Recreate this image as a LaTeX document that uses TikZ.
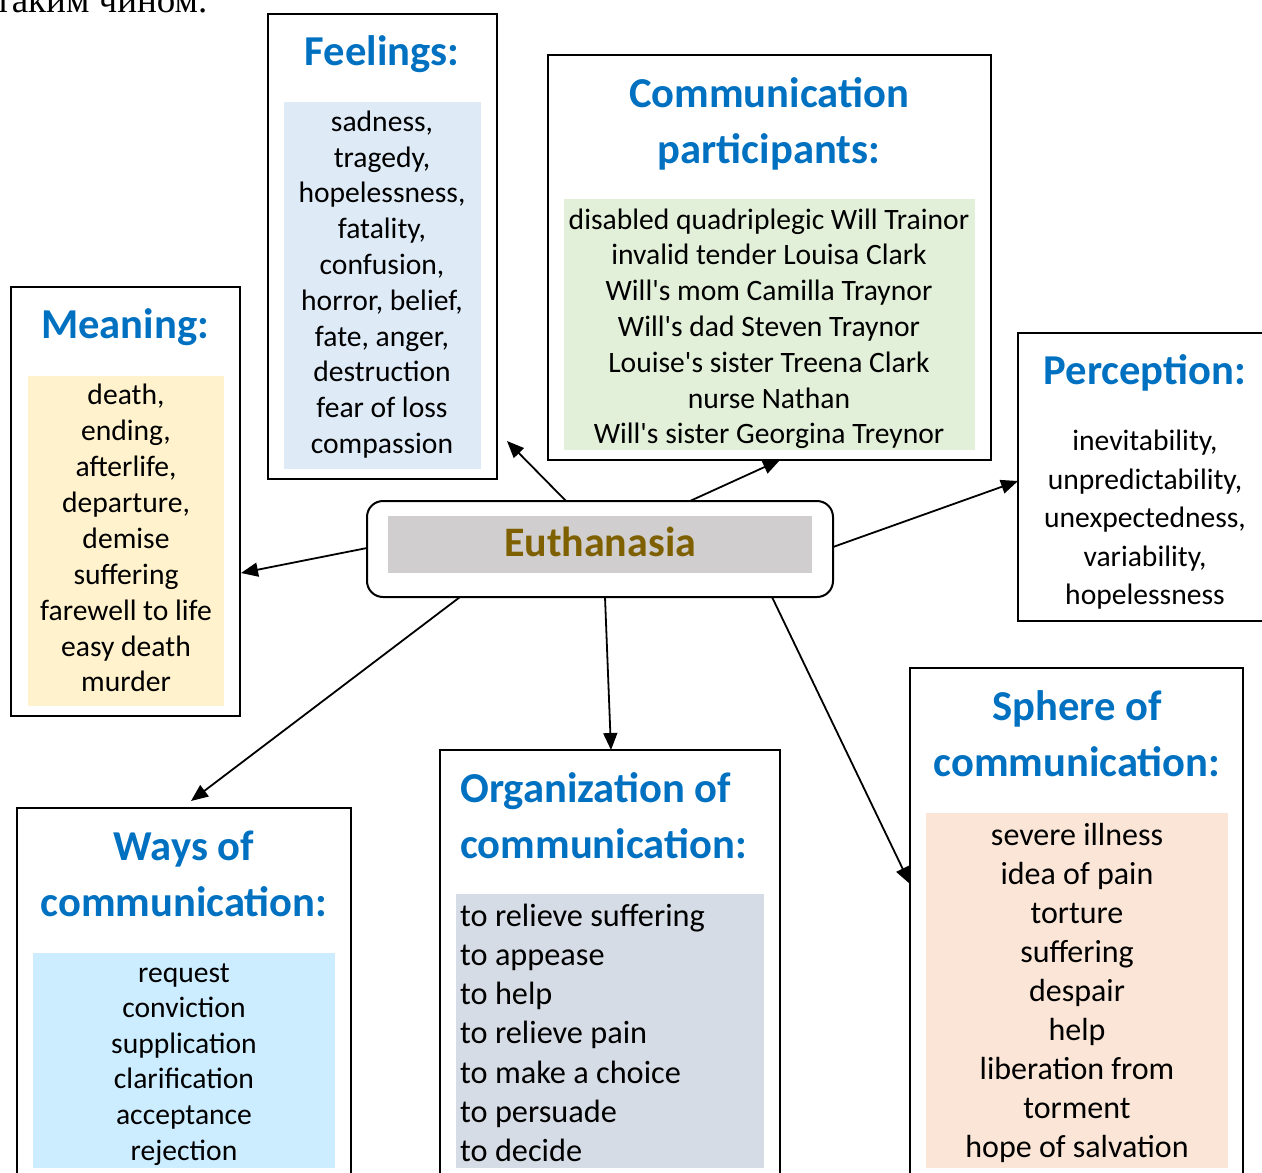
\documentclass[tikz,border=0pt]{standalone}
\usepackage{fontspec}
\setmainfont{Carlito}[Ligatures=TeXOff]
\newfontfamily\ukrserif{Liberation Serif}
\usetikzlibrary{arrows.meta}
\definecolor{titleblue}{HTML}{0070C0}
\definecolor{euthbrown}{HTML}{7F6000}
\definecolor{feelfill}{HTML}{DEEBF7}
\definecolor{partfill}{HTML}{E2F0D9}
\definecolor{meanfill}{HTML}{FFF2CC}
\definecolor{euthfill}{HTML}{D0CECE}
\definecolor{sphfill}{HTML}{FBE5D6}
\definecolor{orgfill}{HTML}{D6DCE5}
\definecolor{waysfill}{HTML}{CCECFF}
\begin{document}
\begin{tikzpicture}[x=1pt,y=-1pt,
  outerbox/.style={draw=black, line width=2pt, rectangle, inner sep=0pt, outer sep=0pt},
  fillbox/.style={rectangle, inner sep=0pt, outer sep=0pt},
  txt/.style={inner sep=0pt, execute at begin node=\strut, execute at end node=\strut},
  titletxt/.style={txt, text=titleblue, align=center, font=\fontsize{42.6}{56}\selectfont\bfseries},
  itemtxt/.style={txt, align=center, font=\fontsize{29.6}{#1}\selectfont},
  itemtxt/.default=35.8,
  orgtxt/.style={txt, align=left, anchor=west, font=\fontsize{32.3}{39.2}\selectfont},
  arr/.style={line width=1.8pt, -{Triangle[length=17pt,width=14pt]}}
]
\useasboundingbox (0,0) rectangle (1262,1173);
\clip (0,0) rectangle (1262,1173);

% leftover text line at the top
\node[anchor=base west, inner sep=0pt, font=\ukrserif\fontsize{37}{44}\selectfont] (ukr) at (-5,12) {таким чином.};

% Feelings
\node[outerbox, minimum width=229, minimum height=465] (feel) at (382.5,246.5) {};
\node[fillbox, fill=feelfill, minimum width=197, minimum height=367] (feelbg) at (382.5,285.5) {};
\node[titletxt] (feelT) at (382,54.5) {Feelings:};
\node[itemtxt] (feelI) at (382,287.5) {sadness,\\tragedy,\\hopelessness,\\fatality,\\confusion,\\horror, belief,\\fate, anger,\\destruction\\fear of loss\\compassion};

% Communication participants
\node[outerbox, minimum width=443, minimum height=405] (part) at (769.5,257.5) {};
\node[fillbox, fill=partfill, minimum width=411, minimum height=251] (partbg) at (769.5,324.5) {};
\node[titletxt] (partT) at (769,128.5) {Communication\\participants:};
\node[itemtxt] (partI) at (769,331.5) {disabled quadriplegic Will Trainor\\invalid tender Louisa Clark\\Will's mom Camilla Traynor\\Will's dad Steven Traynor\\Louise's sister Treena Clark\\nurse Nathan\\Will's sister Georgina Treynor};

% Meaning
\node[outerbox, minimum width=229, minimum height=429] (mean) at (125.5,501.5) {};
\node[fillbox, fill=meanfill, minimum width=196, minimum height=330] (meanbg) at (126,541) {};
\node[titletxt] (meanT) at (125,327) {Meaning:};
\node[itemtxt=35.9] (meanI) at (126,543.5) {death,\\ending,\\afterlife,\\departure,\\demise\\suffering\\farewell to life\\easy death\\murder};

% Euthanasia
\node[draw=black, line width=2pt, rounded corners=16pt, rectangle, inner sep=0pt, outer sep=0pt, minimum width=466, minimum height=96] (euth) at (600,549) {};
\node[fillbox, fill=euthfill, minimum width=424, minimum height=57] (euthbg) at (600,544.5) {};
\node[txt, text=euthbrown, font=\fontsize{42}{56}\selectfont\bfseries] (euthT) at (600,545) {Euthanasia};

% Perception
\node[outerbox, minimum width=272, minimum height=288] (perc) at (1154,477) {};
\node[titletxt] (percT) at (1145,373) {Perception:};
\node[itemtxt=38.5] (percI) at (1145,523) {inevitability,\\unpredictability,\\unexpectedness,\\variability,\\hopelessness};

% Sphere of communication
\node[outerbox, minimum width=333, minimum height=532] (sph) at (1076.5,934) {};
\node[fillbox, fill=sphfill, minimum width=302, minimum height=355] (sphbg) at (1077,990.5) {};
\node[titletxt] (sphT) at (1077,742) {Sphere of\\communication:};
\node[txt, align=center, font=\fontsize{32}{39}\selectfont] (sphI) at (1077,996.5) {severe illness\\idea of pain\\torture\\suffering\\despair\\help\\liberation from\\torment\\hope of salvation};

% Organization of communication
\node[outerbox, minimum width=340, minimum height=450] (org) at (610,975) {};
\node[fillbox, fill=orgfill, minimum width=308, minimum height=274] (orgbg) at (610,1031) {};
\node[titletxt, align=left, anchor=west] (orgT) at (460,824) {Organization of\\communication:};
\node[orgtxt] (orgI) at (460,1038.5) {to relieve suffering\\to appease\\to help\\to relieve pain\\to make a choice\\to persuade\\to decide};

% Ways of communication
\node[outerbox, minimum width=334, minimum height=392] (ways) at (184,1004) {};
\node[fillbox, fill=waysfill, minimum width=302, minimum height=215] (waysbg) at (184,1060.5) {};
\node[titletxt] (waysT) at (184,882) {Ways of\\communication:};
\node[itemtxt=35.6] (waysI) at (184,1067) {request\\conviction\\supplication\\clarification\\acceptance\\rejection};

% connector end points
\coordinate (eFeel) at (566,501);
\coordinate (tFeel) at (507,441);
\coordinate (ePart) at (690,501);
\coordinate (tPart) at (780,460);
\coordinate (eMean) at (367,548);
\coordinate (tMean) at (241,573);
\coordinate (ePerc) at (833,547);
\coordinate (tPerc) at (1018,481);
\coordinate (eWays) at (460,597);
\coordinate (tWays) at (191,801);
\coordinate (eOrg) at (605,597);
\coordinate (tOrg) at (611,750);
\coordinate (eSph) at (772,597);
\coordinate (tSph) at (910,884);

\draw[arr] (eFeel) -- (tFeel);
\draw[arr] (ePart) -- (tPart);
\draw[arr] (eMean) -- (tMean);
\draw[arr] (ePerc) -- (tPerc);
\draw[arr] (eWays) -- (tWays);
\draw[arr] (eOrg) -- (tOrg);
\draw[arr] (eSph) -- (tSph);
\end{tikzpicture}
\end{document}
